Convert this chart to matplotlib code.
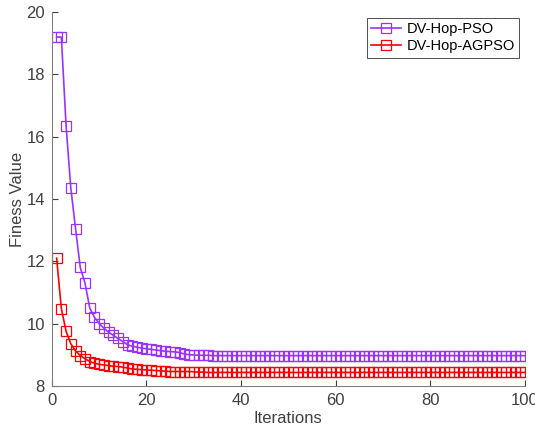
import matplotlib.pyplot as plt

plt.rcParams['font.family'] = ['Liberation Sans', 'DejaVu Sans']

iterations = list(range(1, 101))

pso_fitness = [
    19.20, 19.20, 16.35, 14.35, 13.05, 11.80, 11.30, 10.50, 10.20, 10.00,
    9.85, 9.72, 9.62, 9.52, 9.42, 9.32, 9.27, 9.24, 9.21, 9.19,
    9.17, 9.15, 9.13, 9.11, 9.10, 9.09, 9.07, 9.02, 9.00, 8.99,
    8.98, 8.98, 8.98, 8.97, 8.97, 8.97, 8.97, 8.97, 8.97, 8.97,
    8.97, 8.97, 8.97, 8.97, 8.97, 8.97, 8.97, 8.97, 8.97, 8.97,
    8.97, 8.97, 8.97, 8.97, 8.97, 8.97, 8.97, 8.97, 8.97, 8.97,
    8.97, 8.97, 8.97, 8.97, 8.97, 8.97, 8.97, 8.97, 8.97, 8.97,
    8.97, 8.97, 8.97, 8.97, 8.97, 8.97, 8.97, 8.97, 8.97, 8.97,
    8.97, 8.97, 8.97, 8.97, 8.97, 8.97, 8.97, 8.97, 8.97, 8.97,
    8.97, 8.97, 8.97, 8.97, 8.97, 8.97, 8.97, 8.97, 8.97, 8.97,
]

agpso_fitness = [
    12.10, 10.48, 9.75, 9.35, 9.12, 8.97, 8.87, 8.78, 8.73, 8.69,
    8.67, 8.65, 8.63, 8.62, 8.60, 8.57, 8.54, 8.53, 8.52, 8.51,
    8.50, 8.49, 8.48, 8.47, 8.46, 8.46, 8.46, 8.46, 8.46, 8.45,
    8.44, 8.44, 8.43, 8.43, 8.43, 8.43, 8.43, 8.43, 8.43, 8.43,
    8.43, 8.43, 8.43, 8.43, 8.43, 8.43, 8.43, 8.43, 8.43, 8.43,
    8.43, 8.43, 8.43, 8.43, 8.43, 8.43, 8.43, 8.43, 8.43, 8.43,
    8.43, 8.43, 8.43, 8.43, 8.43, 8.43, 8.43, 8.43, 8.43, 8.43,
    8.43, 8.43, 8.43, 8.43, 8.43, 8.43, 8.43, 8.43, 8.43, 8.43,
    8.43, 8.43, 8.43, 8.43, 8.43, 8.43, 8.43, 8.43, 8.43, 8.43,
    8.43, 8.43, 8.43, 8.43, 8.43, 8.43, 8.43, 8.43, 8.43, 8.43,
]

fig = plt.figure(figsize=(5.35, 4.34), dpi=100)
ax = fig.add_axes([0.097, 0.111, 0.884, 0.861])

ax.plot(iterations, pso_fitness, color='#9933ff', lw=1.2, marker='s',
        markersize=6.5, markerfacecolor='none', markeredgewidth=0.9,
        label='DV-Hop-PSO')
ax.plot(iterations, agpso_fitness, color='#ff0000', lw=1.2, marker='s',
        markersize=6.5, markerfacecolor='none', markeredgewidth=0.9,
        label='DV-Hop-AGPSO')

ax.set_xlim(0, 100)
ax.set_ylim(8, 20)
ax.set_xticks([0, 20, 40, 60, 80, 100])
ax.set_yticks([8, 10, 12, 14, 16, 18, 20])
ax.tick_params(direction='in', labelsize=12, colors='#404040', length=4,
               pad=5)
for s in ['top', 'right']:
    ax.spines[s].set_visible(False)
for s in ['left', 'bottom']:
    ax.spines[s].set_color('#808080')

ax.set_xlabel('Iterations', fontsize=12, color='#404040', labelpad=2)
ax.set_ylabel('Finess Value', fontsize=12, color='#404040', labelpad=1)

leg = ax.legend(loc='upper right', fontsize=10.5, fancybox=False,
                edgecolor='#333333', framealpha=1, handlelength=2.0,
                handletextpad=0.4, borderaxespad=0.4, borderpad=0.3,
                labelspacing=0.2)
leg.get_frame().set_linewidth(0.6)

fig.savefig('out.png', dpi=100)
